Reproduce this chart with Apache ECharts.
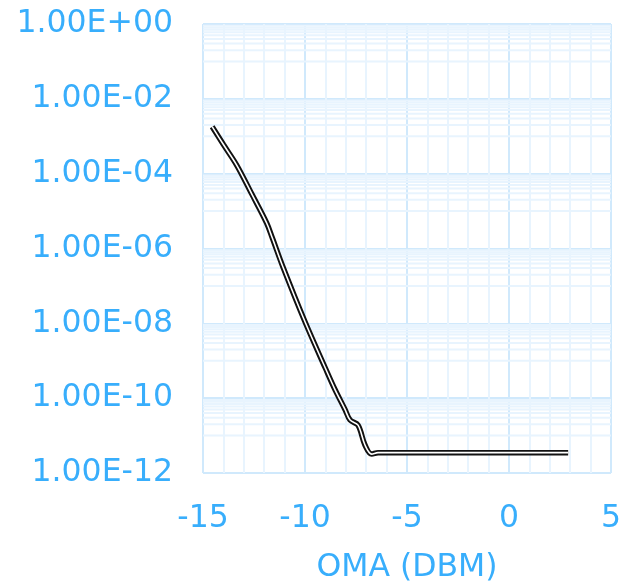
<!DOCTYPE html>
<html>
<head>
<meta charset="utf-8">
<script src="https://cdn.jsdelivr.net/npm/echarts@6/dist/echarts.min.js"></script>
<style>
  html, body { margin: 0; padding: 0; background: #fff; }
  #chart { width: 623px; height: 582px; }
</style>
</head>
<body>
<div id="chart"></div>
<script>
// Optical modulation amplitude (dBm) vs. bit error ratio
const omaDbm = [-14.55, -14.0, -13.35, -12.6, -11.88, -11.6, -11.08, -10.0, -9.0, -8.53, -8.04, -7.79, -7.4, -7.06, -6.73, -6.42, -5.0, 2.9];
const ber    = [1.8e-3, 6.0e-4, 1.7e-4, 2.8e-5, 4.8e-6, 1.9e-6, 3.2e-7, 1.1e-8, 6.3e-10, 1.7e-10, 5.0e-11, 2.6e-11, 1.9e-11, 5.6e-12, 3.2e-12, 3.5e-12, 3.5e-12, 3.5e-12];

const xTicks = [-15, -10, -5, 0, 5];
const yExponents = [0, -2, -4, -6, -8, -10, -12];
const xTitle = 'OMA (DBM)';

const textBlue = '#38aefc';
const majorGrid = '#d0e9fc';
const minorGrid = '#e8f4fe';
const font = '"DejaVu Sans", Verdana, sans-serif';

const xMin = xTicks[0];
const xMax = xTicks[xTicks.length - 1];
const points = omaDbm.map((x, i) => [x, ber[i]]);

// Minor horizontal lines: within each 100x band, steps of one tenth of the band's top
const yMin = Math.pow(10, Math.min(...yExponents));
const yMax = Math.pow(10, Math.max(...yExponents));
const minorY = [];
yExponents.slice(0, -1).forEach(e => {
  const step = Math.pow(10, e - 1);
  for (let k = 1; k <= 9; k++) minorY.push(k * step);
});

function sci(v) {
  const e = Math.round(Math.log10(v));
  const sign = e < 0 ? '-' : '+';
  const a = Math.abs(e);
  return '1.00E' + sign + (a < 10 ? '0' + a : '' + a);
}

const minorSeries = minorY.map(v => ({
  type: 'line',
  data: [[xMin, v], [xMax, v]],
  silent: true,
  showSymbol: false,
  z: 1,
  lineStyle: { color: minorGrid, width: 2 }
}));

const chart = echarts.init(document.getElementById('chart'), null, { renderer: 'canvas' });
chart.setOption({
  animation: false,
  backgroundColor: '#ffffff',
  grid: {
    left: 203, right: 12, top: 24, bottom: 109,
    containLabel: false,
    outerBoundsMode: 'none'
  },
  xAxis: {
    type: 'value',
    min: xMin,
    max: xMax,
    interval: 5,
    name: xTitle,
    nameLocation: 'middle',
    nameGap: 79,
    nameTextStyle: { color: textBlue, fontSize: 31.5, fontFamily: font },
    axisLine: { show: false },
    axisTick: { show: false },
    axisLabel: { color: textBlue, fontSize: 31.5, fontFamily: font, margin: 30 },
    splitLine: { show: true, lineStyle: { color: majorGrid, width: 2 } },
    minorTick: { show: false, splitNumber: 5 },
    minorSplitLine: { show: true, lineStyle: { color: minorGrid, width: 2 } }
  },
  yAxis: {
    type: 'log',
    logBase: 100,
    min: yMin,
    max: yMax,
    axisLine: { show: false },
    axisTick: { show: false },
    axisLabel: {
      color: textBlue, fontSize: 31.5, fontFamily: font, margin: 30,
      padding: [3, 0, 0, 0],
      formatter: v => sci(v)
    },
    splitLine: { show: true, lineStyle: { color: majorGrid, width: 2 } }
  },
  series: minorSeries.concat([
    {
      type: 'line',
      data: points,
      smooth: 0.35,
      showSymbol: false,
      z: 10,
      lineStyle: { color: '#111111', width: 5.5 }
    },
    {
      type: 'line',
      data: points,
      smooth: 0.35,
      showSymbol: false,
      z: 11,
      lineStyle: { color: '#ffffff', width: 1.6 }
    }
  ])
});
</script>
</body>
</html>
